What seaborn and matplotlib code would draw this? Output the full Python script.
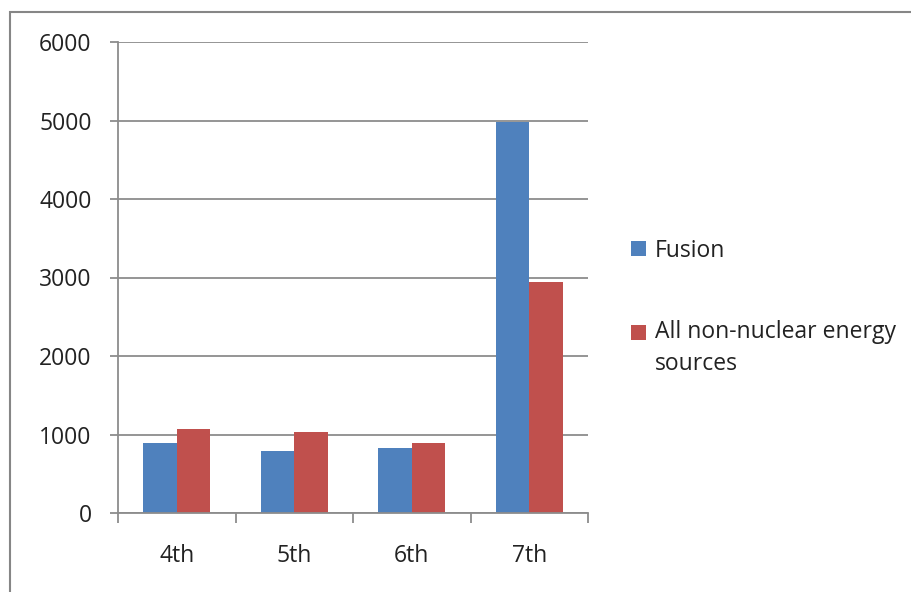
import matplotlib
matplotlib.use("Agg")
import matplotlib.pyplot as plt
import seaborn as sns
import pandas as pd
from matplotlib.patches import Rectangle
from matplotlib.legend_handler import HandlerPatch

categories = ["4th", "5th", "6th", "7th"]
fusion = [888, 790, 824, 4977]
non_nuclear = [1066, 1036, 888, 2946]
series_names = ["Fusion", "All non-nuclear energy\nsources"]
yticks = [0, 1000, 2000, 3000, 4000, 5000, 6000]

df = pd.DataFrame({
    "cat": categories * 2,
    "value": fusion + non_nuclear,
    "series": [series_names[0]] * 4 + [series_names[1]] * 4,
})

sns.set_theme(style="white")
plt.rcParams["font.family"] = ["Open Sans", "DejaVu Sans"]

fig = plt.figure(figsize=(9.11, 5.92), dpi=100)
ax = fig.add_axes([118/911, 1 - 513/592, (588-118)/911, (513-42)/592])

colors = ["#4F81BD", "#C0504D"]
sns.barplot(data=df, x="cat", y="value", hue="series", palette=colors,
            width=0.572, gap=0, saturation=1, ax=ax, legend=False,
            edgecolor="none", linewidth=0, zorder=3)

ax.set_xlim(-0.5, 3.5)
ax.set_ylim(0, 6000)
ax.set_yticks(yticks)
ax.set_yticklabels([str(v) for v in yticks])
ax.set_xlabel("")
ax.set_ylabel("")

gray = "#8C8C8C"
ax.grid(axis="y", color=gray, linewidth=1.3, zorder=0)
ax.set_axisbelow(True)
for s in ["top", "right"]:
    ax.spines[s].set_visible(False)
for s in ["left", "bottom"]:
    ax.spines[s].set_color(gray)
    ax.spines[s].set_linewidth(1.3)
    ax.spines[s].set_zorder(4)

ax.tick_params(axis="y", which="major", left=True, length=6, width=1.3,
               color=gray, pad=13, labelsize=16.5, labelcolor="#222222")
ax.tick_params(axis="x", which="major", bottom=True, length=0, pad=22,
               labelsize=16.5, labelcolor="#222222")
ax.set_xticks([-0.5, 0.5, 1.5, 2.5, 3.5], minor=True)
ax.tick_params(axis="x", which="minor", bottom=True, length=7, width=1.3,
               color=gray)

# legend with handle aligned to first text line
class TopHandler(HandlerPatch):
    def __init__(self, shift):
        super().__init__()
        self.shift = shift
    def create_artists(self, legend, orig_handle, xdescent, ydescent,
                       width, height, fontsize, trans):
        p = Rectangle((-xdescent, -ydescent + self.shift), width, height,
                      facecolor=orig_handle.get_facecolor(), edgecolor="none",
                      transform=trans)
        return [p]

h1 = Rectangle((0, 0), 1, 1, facecolor=colors[0])
h2 = Rectangle((0, 0), 1, 1, facecolor=colors[1])
leg = fig.legend([h1, h2], series_names, loc="upper left",
                 bbox_to_anchor=(610/911, 1 - 218/592), frameon=False,
                 fontsize=16.5, handlelength=0.65, handleheight=0.65,
                 handletextpad=0.4, labelspacing=2.52,
                 handler_map={h1: TopHandler(0), h2: TopHandler(12)})
for t in leg.get_texts():
    t.set_color("#222222")
    t.set_linespacing(1.4)

# outer chart border
fig.patches.append(Rectangle((10/911, -0.1), 1.2, 1 - 12/592 + 0.1,
                             transform=fig.transFigure, fill=False,
                             edgecolor="#868686", linewidth=1.5))

fig.savefig("out.png", dpi=100)
